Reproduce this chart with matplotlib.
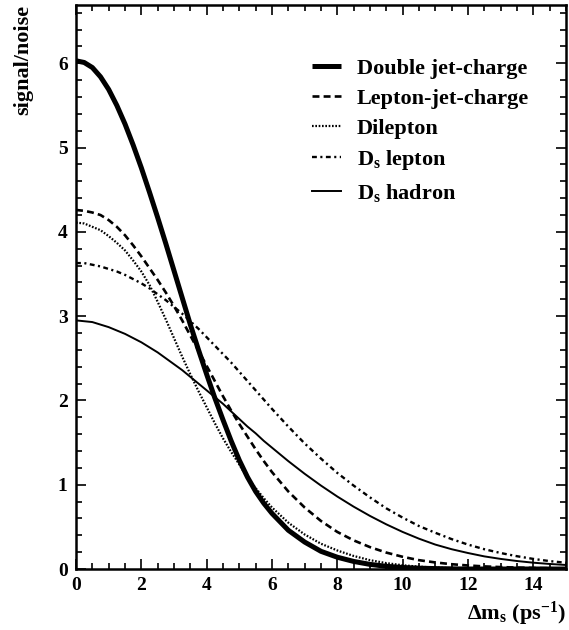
"""
signal/noise versus delta m_s for the five tagging methods
"""
import numpy as np
import matplotlib
matplotlib.use('Agg')
import matplotlib.pyplot as plt
from matplotlib.ticker import MultipleLocator

plt.rcParams['font.family'] = ['Liberation Serif', 'DejaVu Serif']
plt.rcParams['font.weight'] = 'bold'
plt.rcParams['mathtext.fontset'] = 'custom'
plt.rcParams['mathtext.rm'] = 'Liberation Serif:bold'
plt.rcParams['mathtext.bf'] = 'Liberation Serif:bold'
plt.rcParams['mathtext.it'] = 'Liberation Serif:bold'
plt.rcParams['mathtext.default'] = 'bf'
plt.rcParams['lines.scale_dashes'] = False

# dm_s grid (ps^-1)
dm = [0, 0.25, 0.5, 0.75, 1.0, 1.25, 1.5, 1.75, 2.0, 2.25, 2.5, 2.75, 3.0, 3.25, 3.5, 3.75,
      4.0, 4.25, 4.5, 4.75, 5.0, 5.25, 5.5, 5.75, 6.0, 6.5, 7.0, 7.5, 8.0, 8.5, 9.0, 9.5,
      10.0, 10.5, 11.0, 11.5, 12.0, 12.5, 13.0, 13.5, 14.0, 14.5, 15.0]

double_jet = [6.03, 6.01, 5.95, 5.84, 5.69, 5.50, 5.28, 5.03, 4.76, 4.47, 4.17, 3.86, 3.54,
              3.22, 2.90, 2.60, 2.31, 2.03, 1.77, 1.52, 1.29, 1.09, 0.92, 0.78, 0.66, 0.46,
              0.32, 0.21, 0.14, 0.09, 0.055, 0.032, 0.018, 0.010, 0.005, 0.002, 0.0, 0.0,
              0.0, 0.0, 0.0, 0.0, 0.0]
lepton_jet = [4.26, 4.25, 4.23, 4.20, 4.14, 4.06, 3.96, 3.84, 3.71, 3.57, 3.43, 3.28, 3.12,
              2.95, 2.77, 2.59, 2.41, 2.23, 2.05, 1.88, 1.72, 1.57, 1.42, 1.28, 1.15, 0.92,
              0.73, 0.57, 0.44, 0.34, 0.26, 0.195, 0.145, 0.105, 0.078, 0.057, 0.042, 0.031,
              0.023, 0.017, 0.012, 0.009, 0.006]
dilepton = [4.11, 4.10, 4.06, 4.02, 3.95, 3.87, 3.78, 3.66, 3.53, 3.37, 3.17, 2.96, 2.74,
            2.52, 2.31, 2.11, 1.92, 1.73, 1.55, 1.39, 1.24, 1.08, 0.96, 0.84, 0.73, 0.55,
            0.41, 0.30, 0.22, 0.155, 0.105, 0.07, 0.045, 0.028, 0.017, 0.010, 0.006, 0.003,
            0.001, 0.0, 0.0, 0.0, 0.0]
ds_lepton = [3.63, 3.63, 3.61, 3.59, 3.56, 3.53, 3.49, 3.44, 3.39, 3.33, 3.26, 3.19, 3.11,
             3.03, 2.94, 2.85, 2.75, 2.65, 2.55, 2.45, 2.34, 2.23, 2.12, 2.01, 1.90, 1.69,
             1.49, 1.31, 1.14, 0.99, 0.85, 0.72, 0.61, 0.51, 0.43, 0.355, 0.29, 0.235,
             0.19, 0.152, 0.12, 0.094, 0.074]
ds_hadron = [2.95, 2.94, 2.93, 2.90, 2.87, 2.83, 2.79, 2.74, 2.69, 2.63, 2.57, 2.50, 2.43,
             2.36, 2.28, 2.20, 2.12, 2.04, 1.96, 1.87, 1.78, 1.69, 1.61, 1.52, 1.44, 1.28,
             1.13, 0.99, 0.86, 0.74, 0.63, 0.53, 0.44, 0.36, 0.29, 0.235, 0.19, 0.15,
             0.12, 0.095, 0.075, 0.06, 0.048]

labels = ['Double jet-charge', 'Lepton-jet-charge', 'Dilepton',
          r'D$_s$ lepton', r'D$_s$ hadron']

fig = plt.figure(figsize=(5.69, 6.30), dpi=100)
ax = fig.add_axes([0.1336, 0.0968, 0.861, 0.895])

ax.plot(dm, double_jet, color='black', lw=3.6, solid_capstyle='butt', label=labels[0])
ax.plot(dm, lepton_jet, color='black', lw=1.9, dashes=(5, 3), label=labels[1])
ax.plot(dm, dilepton, color='black', lw=1.6, dashes=(1.2, 1.2), label=labels[2])
ax.plot(dm, ds_lepton, color='black', lw=1.7, dashes=(3.5, 2.5, 1.5, 2.5), label=labels[3])
ax.plot(dm, ds_hadron, color='black', lw=1.4, label=labels[4])

ax.set_xlim(0, 15)
ax.set_ylim(0, 6.69)
ax.xaxis.set_major_locator(MultipleLocator(2))
ax.xaxis.set_minor_locator(MultipleLocator(0.5))
ax.yaxis.set_major_locator(MultipleLocator(1))
ax.yaxis.set_minor_locator(MultipleLocator(0.2))
ax.tick_params(which='both', direction='in', top=True, right=True, width=1.2,
               labelsize=14, pad=6)
ax.tick_params(which='major', length=7)
ax.tick_params(which='minor', length=4)
for sp in ax.spines.values():
    sp.set_linewidth(1.8)

ax.set_ylabel('signal/noise', fontsize=16, fontweight='bold')
ax.yaxis.set_label_coords(-0.088, 1.0)
ax.yaxis.label.set_horizontalalignment('right')
ax.set_xlabel(r'$\Delta$m$_s$ (ps$^{-1}$)', fontsize=16, fontweight='bold')
ax.xaxis.set_label_coords(1.0, -0.055)
ax.xaxis.label.set_horizontalalignment('right')

ax.legend(loc='upper left', bbox_to_anchor=(0.463, 0.921), frameon=False, fontsize=16,
          handlelength=1.3, handletextpad=0.72, labelspacing=0.42, borderaxespad=0)

plt.savefig('out.png', dpi=100)
plt.close(fig)
